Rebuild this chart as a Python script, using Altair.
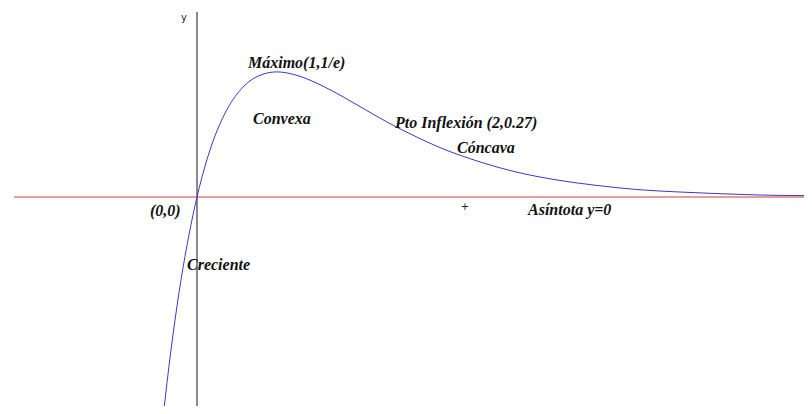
import altair as alt
import pandas as pd

# curve y = x*e^(-x)
curve_x = [-0.45, -0.4, -0.3, -0.2, -0.1, 0.0, 0.1, 0.2, 0.3, 0.4, 0.5, 0.6, 0.7, 0.8, 0.9,
           1.0, 1.2, 1.4, 1.6, 1.8, 2.0, 2.25, 2.5, 2.75, 3.0, 3.5, 4.0, 4.5, 5.0, 5.5,
           6.0, 6.5, 7.0, 7.6]
curve_y = [-0.706, -0.597, -0.405, -0.244, -0.111, 0.0, 0.0905, 0.164, 0.222, 0.268, 0.303,
           0.329, 0.348, 0.359, 0.366, 0.368, 0.361, 0.345, 0.323, 0.298, 0.271, 0.237,
           0.205, 0.176, 0.149, 0.106, 0.073, 0.050, 0.034, 0.022, 0.015, 0.010, 0.006, 0.004]

# annotation labels (data coordinates of their left/middle anchor)
label_text = ["Máximo(1,1/e)", "Convexa", "(0,0)", "Creciente",
              "Pto Inflexión (2,0.27)", "Cóncava", "Asíntota y=0"]
label_x = [0.6375, 0.70, -0.5875, -0.125, 2.475, 3.25, 4.1375]
label_y = [0.394, 0.229, -0.041, -0.20, 0.2176, 0.144, -0.038]

mark_text = ["+", "y"]
mark_x = [3.35, -0.1625]
mark_y = [-0.029, 0.526]

X_DOMAIN = [-2.3625, 7.5875]
Y_DOMAIN = [-0.6147, 0.5559]
W, H = 796, 398

xs = alt.Scale(domain=X_DOMAIN, nice=False, zero=False)
ys = alt.Scale(domain=Y_DOMAIN, nice=False, zero=False)

curve_df = pd.DataFrame({"x": curve_x, "y": curve_y})
label_df = pd.DataFrame({"x": label_x, "y": label_y, "t": label_text})
mark_df = pd.DataFrame({"x": mark_x, "y": mark_y, "t": mark_text})

yaxis = alt.Chart(pd.DataFrame({"x": [0.0]})).mark_rule(color="#8a8a8a", strokeWidth=2).encode(
    x=alt.X("x:Q", scale=xs, axis=None),
    y=alt.value(4), y2=alt.value(H),
)

xaxis = alt.Chart(pd.DataFrame({"y": [0.0]})).mark_rule(color="#d23c3c", strokeWidth=1).encode(
    y=alt.Y("y:Q", scale=ys, axis=None),
    x=alt.value(6), x2=alt.value(W),
)

line = alt.Chart(curve_df).mark_line(color="#3a3ac4", strokeWidth=1, clip=True,
                                      interpolate="monotone").encode(
    x=alt.X("x:Q", scale=xs, axis=None),
    y=alt.Y("y:Q", scale=ys, axis=None),
    order="x:Q",
)

labels = alt.Chart(label_df).mark_text(
    font="Liberation Serif", fontStyle="italic", fontWeight="bold",
    fontSize=16, align="left", baseline="middle", color="#111111",
).encode(
    x=alt.X("x:Q", scale=xs, axis=None),
    y=alt.Y("y:Q", scale=ys, axis=None),
    text="t:N",
)

marks = alt.Chart(mark_df).mark_text(
    font="DejaVu Sans", fontSize=10, align="center", baseline="middle", color="#222222",
).encode(
    x=alt.X("x:Q", scale=xs, axis=None),
    y=alt.Y("y:Q", scale=ys, axis=None),
    text="t:N",
)

chart = alt.layer(yaxis, xaxis, line, labels, marks).properties(
    width=W, height=H, padding=0,
    autosize=alt.AutoSizeParams(type="none"),
    background="white",
).configure_view(stroke=None)

chart.save("out.html", embed_options={"renderer": "svg", "actions": False})
